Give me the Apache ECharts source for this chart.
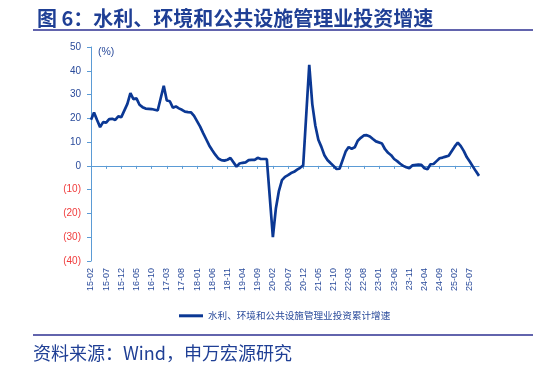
<!DOCTYPE html>
<html>
<head>
<meta charset="utf-8">
<script src="https://cdn.jsdelivr.net/npm/echarts@6/dist/echarts.min.js"></script>
<style>
  html, body { margin: 0; padding: 0; background: #fff; }
  #chart { width: 533px; height: 370px; }
</style>
</head>
<body>
<div id="chart"></div>
<script>
// Datos: crecimiento acumulado (%) por año, ene..dic (enero sin dato)
const years = ['15', '16', '17', '18', '19', '20', '21', '22', '23', '24', '25'];
const firstMonth = 2;   // la serie empieza en 2015-02
const lastMonth = 10;   // termina en 2025-10

const v2015 = [19.4, 22.4, 19.3, 16.3, 18.4, 18.2, 19.7, 19.8, 19.3, 20.8, 20.5];
const v2016 = [null, 26.1, 30.6, 28.1, 28.4, 25.7, 24.7, 24.1, 24.0, 23.9, 23.6, 23.3];
const v2017 = [null, 33.7, 27.5, 27.2, 24.5, 25.0, 24.2, 23.6, 22.8, 22.6, 22.5, 21.0];
const v2018 = [null, 16.5, 13.8, 11.2, 8.6, 6.6, 4.7, 3.1, 2.4, 2.2, 2.6, 3.3];
const v2019 = [null, -0.3, 1.0, 1.3, 1.5, 2.4, 2.5, 2.5, 3.4, 2.9, 2.9, 2.9];
const v2020 = [null, -30.0, -17.8, -10.5, -6.0, -4.6, -3.9, -3.0, -2.5, -1.6, -0.8, 0.2];
const v2021 = [null, 42.5, 26.0, 17.0, 11.0, 8.0, 4.5, 2.5, 1.2, 0.0, -1.3, -1.2];
const v2022 = [null, 6.0, 7.9, 7.2, 7.8, 10.6, 11.8, 12.8, 12.9, 12.4, 11.3, 10.3];
const v2023 = [null, 9.4, 7.0, 5.5, 4.5, 2.9, 2.0, 0.9, 0.0, -0.6, -1.0, 0.2];
const v2024 = [null, 0.5, 0.4, -1.0, -1.4, 0.7, 0.8, 2.0, 3.2, 3.5, 3.9, 4.3];
const v2025 = [null, 8.2, 9.8, 8.3, 6.2, 3.6, 1.7, -0.3, -2.3, -4.2];

const yTicks = [-40, -30, -20, -10, 0, 10, 20, 30, 40, 50];
const seriesName = '水利、环境和公共设施管理业投资累计增速';

// Construir categorías "aa-mm"
const months = [];
years.forEach(function (y, k) {
    const m0 = k === 0 ? firstMonth : 1;
    const m1 = k === years.length - 1 ? lastMonth : 12;
    for (let m = m0; m <= m1; m++) {
        months.push(y + '-' + (m < 10 ? '0' + m : '' + m));
    }
});
const values = [].concat(v2015, v2016, v2017, v2018, v2019, v2020,
    v2021, v2022, v2023, v2024, v2025);

const blue = '#1f3f95';
const labelBlue = '#2a4b9b';
const red = '#f03c3c';
const axisBlue = '#5b9bd5';
const lineBlue = '#0b3894';
const latin = "'Liberation Sans', 'Noto Sans CJK SC', sans-serif";
const cjk = "'Noto Sans CJK SC', 'Liberation Sans', sans-serif";

const chart = echarts.init(document.getElementById('chart'), null, { renderer: 'canvas' });

chart.setOption({
    animation: false,
    backgroundColor: '#fff',
    title: {
        text: '图 6：水利、环境和公共设施管理业投资增速',
        left: 32,
        top: 3,
        textStyle: { fontSize: 20, fontWeight: 'bold', color: blue, fontFamily: cjk }
    },
    legend: {
        left: 174,
        top: 306,
        icon: 'rect',
        itemWidth: 24,
        itemHeight: 3,
        textStyle: { fontSize: 9.6, color: labelBlue, fontFamily: cjk },
        data: [seriesName]
    },
    grid: { left: 91, top: 47, right: 54, bottom: 109, containLabel: false },
    xAxis: [
        {
            type: 'category',
            data: months,
            boundaryGap: false,
            position: 'bottom',
            axisLine: { show: false, onZero: false },
            axisTick: { show: false },
            axisLabel: {
                interval: 4,
                rotate: 90,
                margin: 7,
                fontSize: 9,
                color: labelBlue,
                fontFamily: latin
            },
            splitLine: { show: false }
        },
        {
            type: 'category',
            data: months,
            boundaryGap: false,
            position: 'bottom',
            axisLine: { show: true, onZero: true, lineStyle: { color: axisBlue, width: 1 } },
            axisTick: { show: true, interval: 4, length: 3, lineStyle: { color: axisBlue } },
            axisLabel: { show: false },
            splitLine: { show: false }
        }
    ],
    yAxis: {
        type: 'value',
        min: yTicks[0],
        max: yTicks[yTicks.length - 1],
        interval: 10,
        axisLine: { show: true, lineStyle: { color: axisBlue, width: 1 } },
        axisTick: { show: true, length: 4, lineStyle: { color: axisBlue } },
        splitLine: { show: false },
        axisLabel: {
            margin: 10,
            fontSize: 10,
            fontFamily: latin,
            formatter: function (v) { return v < 0 ? '(' + Math.abs(v) + ')' : '' + v; },
            color: function (v) { return Number(v) < 0 ? red : labelBlue; }
        }
    },
    graphic: [
        {
            type: 'line',
            shape: { x1: 33, y1: 30, x2: 533, y2: 30 },
            style: { stroke: '#2e3192', lineWidth: 1.5 }
        },
        {
            type: 'line',
            shape: { x1: 33, y1: 335, x2: 533, y2: 335 },
            style: { stroke: '#2e3192', lineWidth: 1.5 }
        },
        {
            type: 'text',
            left: 98,
            top: 47,
            style: { text: '(%)', fill: labelBlue, font: "10.5px 'Liberation Sans', sans-serif" }
        },
        {
            type: 'text',
            left: 33,
            top: 344,
            style: { text: '资料来源：Wind，申万宏源研究', fill: blue, font: "18px 'Noto Sans CJK SC', sans-serif" }
        }
    ],
    series: [{
        name: seriesName,
        type: 'line',
        xAxisIndex: 0,
        data: values,
        connectNulls: true,
        symbol: 'none',
        smooth: false,
        lineStyle: { width: 2.7, color: lineBlue },
        itemStyle: { color: lineBlue }
    }]
});
</script>
</body>
</html>
